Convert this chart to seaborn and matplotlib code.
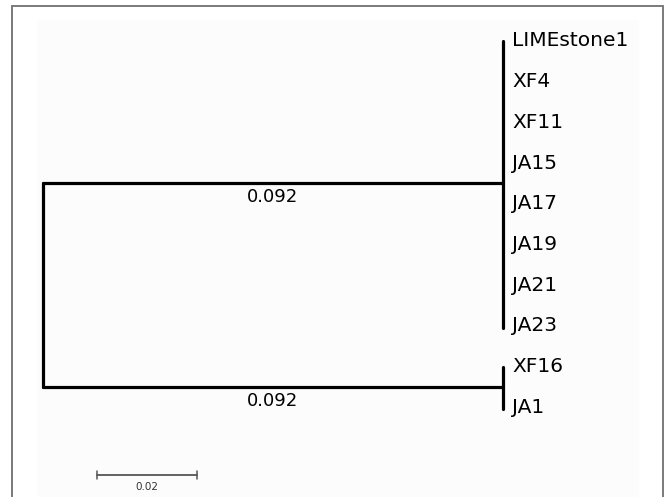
import numpy as np
import pandas as pd
import matplotlib
matplotlib.use("Agg")
import matplotlib.pyplot as plt
import seaborn as sns
from matplotlib.lines import Line2D
from matplotlib.patches import Rectangle

sns.set_theme(style="white")
plt.rcParams["font.family"] = ["DejaVu Sans"]

# tree data: two clades joined at the root
clade_a = ["LIMEstone1", "XF4", "XF11", "JA15", "JA17", "JA19", "JA21", "JA23"]
clade_b = ["XF16", "JA1"]
branch_a = 0.092
branch_b = 0.092
scale_len = 0.02

leaves = clade_a + clade_b
leaf_y = {name: i for i, name in enumerate(leaves)}

ya = np.mean([leaf_y[n] for n in clade_a])
yb = np.mean([leaf_y[n] for n in clade_b])

# build line segments for the dendrogram
segs = []
def add(seg, x0, y0, x1, y1):
    segs.append({"seg": seg, "x": x0, "y": y0})
    segs.append({"seg": seg, "x": x1, "y": y1})

add("root_v", 0, ya, 0, yb)
add("a_h", 0, ya, branch_a, ya)
add("b_h", 0, yb, branch_b, yb)
add("a_v", branch_a, leaf_y[clade_a[0]], branch_a, leaf_y[clade_a[-1]] + 0.05)
add("b_v", branch_b, leaf_y[clade_b[0]], branch_b, leaf_y[clade_b[-1]] + 0.05)
df = pd.DataFrame(segs)

fig = plt.figure(figsize=(6.67, 4.97), dpi=100)
ax = fig.add_axes([0, 0, 1, 1])

# faint background panel
ax.add_patch(Rectangle((37 / 667, 0), (639 - 37) / 667, 1 - 20 / 497,
                       transform=ax.transAxes, fc="#fcfcfc", ec="none", zorder=0))

sns.lineplot(data=df, x="x", y="y", units="seg", estimator=None, sort=False,
             color="black", linewidth=2.3, ax=ax, legend=False, zorder=3)

# leaf labels
for name in leaves:
    ax.text(branch_a + 0.0018, leaf_y[name], name, fontsize=14.5,
            ha="left", va="center", color="black")

# branch length labels
for yv, bl in [(ya, branch_a), (yb, branch_b)]:
    ax.annotate(f"{bl:.3f}", xy=(bl / 2, yv), xytext=(0, -10),
                textcoords="offset points", ha="center", va="center",
                fontsize=13, color="black")

# scale bar
sb_x0 = 0.0108
sb_y = 10.66
ax.plot([sb_x0, sb_x0 + scale_len], [sb_y, sb_y], color="#555555", lw=1.3)
for xe in [sb_x0, sb_x0 + scale_len]:
    ax.plot([xe, xe], [sb_y - 0.1, sb_y + 0.1], color="#555555", lw=1.1)
ax.text(sb_x0 + scale_len / 2, sb_y + 0.3, f"{scale_len:.2f}", fontsize=7.5,
        ha="center", va="center", color="#333333")

ax.set_xlim(-0.0086, 0.1248)
ax.set_ylim(11.204, -1.007)
ax.set_axis_off()

# outer frame (open at bottom)
fx0, fx1, fy = 12 / 667, 663 / 667, 1 - 6 / 497
for xs, ys in [([fx0, fx0], [0, fy]), ([fx0, fx1], [fy, fy]), ([fx1, fx1], [fy, 0])]:
    fig.add_artist(Line2D(xs, ys, color="#7a7a7a", lw=1.4, transform=fig.transFigure))

fig.savefig("out.png", dpi=100, facecolor="white")
